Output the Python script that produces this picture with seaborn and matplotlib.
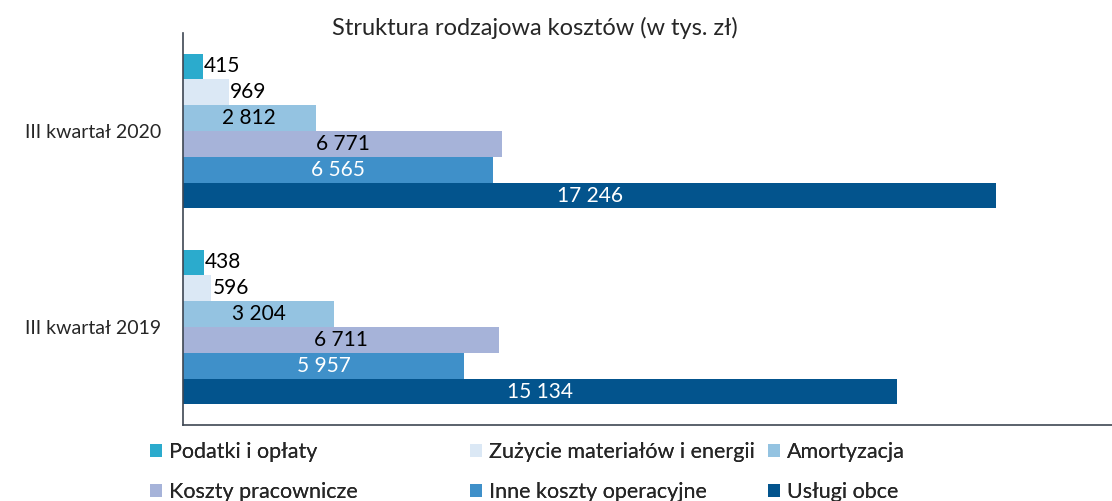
import pandas as pd
import seaborn as sns
import matplotlib.pyplot as plt
from matplotlib.patches import Patch

# Data (thousand PLN)
quarters = ['III kwartał 2020', 'III kwartał 2019']
cost_types = ['Podatki i opłaty', 'Zużycie materiałów i energii', 'Amortyzacja',
              'Koszty pracownicze', 'Inne koszty operacyjne', 'Usługi obce']
values_2020 = [415, 969, 2812, 6771, 6565, 17246]
values_2019 = [438, 596, 3204, 6711, 5957, 15134]
colors = ['#2BABCD', '#DBE8F5', '#94C3E1', '#A6B3D9', '#3F90C9', '#03548D']
label_colors = ['black', 'black', 'black', 'black', 'white', 'white']

rows = []
for q, vals in zip(quarters, [values_2020, values_2019]):
    for c, v in zip(cost_types, vals):
        rows.append({'kwartal': q, 'rodzaj': c, 'wartosc': v})
df = pd.DataFrame(rows)

sns.set_style('white')
plt.rcParams['font.family'] = ['Lato', 'DejaVu Sans']

fig = plt.figure(figsize=(11.12, 5.01), dpi=100)
ax = fig.add_axes([183 / 1112, 1 - 425 / 501, 1 - 183 / 1112, (425 - 33) / 501])

sns.barplot(data=df, y='kwartal', x='wartosc', hue='rodzaj', order=quarters,
            hue_order=cost_types, palette=colors, orient='h', width=0.79,
            saturation=1, legend=False, ax=ax, edgecolor='none')

ax.set_xlim(0, 19700)
ax.set_ylim(1.5, -0.5)
ax.set_xlabel('')
ax.set_ylabel('')
ax.set_xticks([])
ax.tick_params(axis='y', length=0, labelsize=14, pad=16)
for s in ['top', 'right']:
    ax.spines[s].set_visible(False)
for s in ['left', 'bottom']:
    ax.spines[s].set_color('#3E4753')
    ax.spines[s].set_linewidth(1.2)

# value labels: small bars outside, others centred
for i, cont in enumerate(ax.containers):
    for bar in cont:
        w = bar.get_width()
        txt = f'{int(w):,}'.replace(',', ' ')
        yc = bar.get_y() + bar.get_height() / 2
        if w < 1500:
            ax.text(w + 30, yc, txt, ha='left', va='center', fontsize=15, color='black')
        else:
            ax.text(w / 2, yc, txt, ha='center', va='center', fontsize=15, color=label_colors[i])

fig.text(0.481, 1 - 28 / 501, 'Struktura rodzajowa kosztów (w tys. zł)',
         ha='center', va='center', fontsize=17)

# legend: three columns, two rows (row-wise order)
col_x = [150 / 1112, 470 / 1112, 768 / 1112]
for k in range(3):
    idx = [k, k + 3]
    handles = [Patch(facecolor=colors[j], edgecolor='none') for j in idx]
    labels = [cost_types[j] for j in idx]
    leg = fig.legend(handles, labels, loc='upper left', bbox_to_anchor=(col_x[k], 1 - 442 / 501),
                     frameon=False, fontsize=15.5, handlelength=0.55, handleheight=0.55,
                     handletextpad=0.35, labelspacing=0.95, borderaxespad=0, borderpad=0)
    fig.add_artist(leg)

plt.savefig('out.png', dpi=100)
plt.close()
